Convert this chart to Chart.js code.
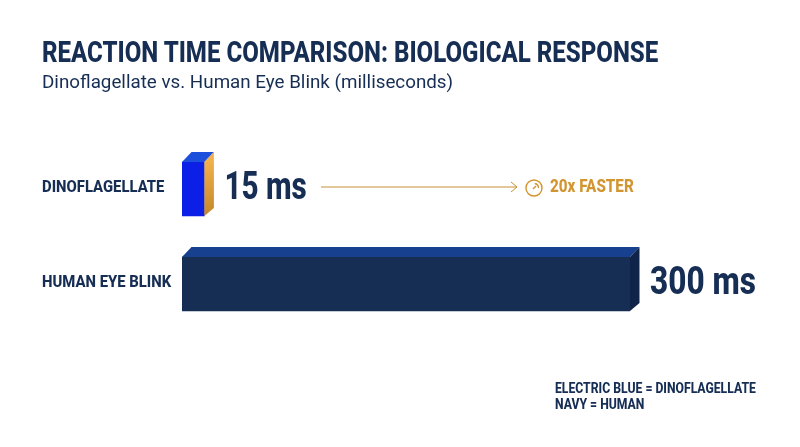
<!DOCTYPE html>
<html lang="en">
<head>
    <meta charset="UTF-8">
    <title>Reaction Time Comparison</title>
    <script src="https://cdn.jsdelivr.net/npm/chart.js"></script>
    <style>
        html, body {
            margin: 0;
            padding: 0;
            width: 800px;
            height: 447px;
            overflow: hidden;
            background: #ffffff;
            font-family: Roboto, Arial, sans-serif;
            color: #162d54;
        }

        .wrap {
            position: absolute;
            left: 0;
            top: 0;
            width: 800px;
            height: 447px;
        }

        .txt {
            position: absolute;
            white-space: nowrap;
            transform-origin: left top;
        }

        #titulo {
            left: 42px;
            top: 35px;
            font-size: 29px;
            line-height: 34px;
            font-weight: 800;
            transform: scaleX(0.83);
        }

        #subtitulo {
            left: 42px;
            top: 70px;
            font-size: 18.8px;
            line-height: 24px;
            font-weight: 400;
        }

        #nota {
            left: 555px;
            top: 380px;
            font-size: 14px;
            line-height: 16px;
            font-weight: 800;
            transform: scaleX(0.87);
        }
    </style>
</head>
<body>

    <div class="wrap">
        <canvas id="grafico" width="800" height="447"></canvas>
        <div class="txt" id="titulo">REACTION TIME COMPARISON: BIOLOGICAL RESPONSE</div>
        <div class="txt" id="subtitulo">Dinoflagellate vs. Human Eye Blink (milliseconds)</div>
        <div class="txt" id="nota">ELECTRIC BLUE = DINOFLAGELLATE<br>NAVY = HUMAN</div>
    </div>

    <script>
        const categorias = ['DINOFLAGELLATE', 'HUMAN EYE BLINK'];
        const tiempos = [15, 300];
        const etiquetas = ['15 ms', '300 ms'];
        const nota = '20x FASTER';

        const NAVY = '#162d54';
        const GOLD = '#d2952f';
        const frente = ['#0b1fe6', '#162d54'];
        const arriba = ['#1c4fdc', '#17408f'];
        const lado = [['#f2b04c', '#c4862a'], ['#0f2448', '#0f2448']];
        const anchoEtiqueta = [0.76, 0.81];

        function textoAngosto(ctx, texto, x, y, fuente, escala, color) {
            ctx.save();
            ctx.translate(x, y);
            ctx.scale(escala, 1);
            ctx.font = fuente;
            ctx.fillStyle = color;
            ctx.textAlign = 'left';
            ctx.textBaseline = 'middle';
            ctx.fillText(texto, 0, 0);
            ctx.restore();
        }

        const barras3d = {
            id: 'barras3d',
            afterDatasetsDraw(chart) {
                const ctx = chart.ctx;
                const barras = chart.getDatasetMeta(0).data;
                const dx = 9.5, dy = 10, caida = 8;

                barras.forEach((b, i) => {
                    const izq = b.base, der = b.x;
                    const sup = b.y - b.height / 2, inf = b.y + b.height / 2;

                    // cara superior
                    ctx.fillStyle = arriba[i];
                    ctx.beginPath();
                    ctx.moveTo(izq, sup);
                    ctx.lineTo(izq + dx, sup - dy);
                    ctx.lineTo(der + dx, sup - dy);
                    ctx.lineTo(der, sup);
                    ctx.closePath();
                    ctx.fill();

                    // cara lateral
                    const grad = ctx.createLinearGradient(der, sup, der + dx, inf);
                    grad.addColorStop(0, lado[i][0]);
                    grad.addColorStop(1, lado[i][1]);
                    ctx.fillStyle = grad;
                    ctx.beginPath();
                    ctx.moveTo(der, sup);
                    ctx.lineTo(der + dx, sup - dy);
                    ctx.lineTo(der + dx, inf - caida);
                    ctx.lineTo(der, inf);
                    ctx.closePath();
                    ctx.fill();

                    textoAngosto(ctx, etiquetas[i], der + dx + 10.5, b.y, '800 39px Roboto', anchoEtiqueta[i], NAVY);
                    textoAngosto(ctx, categorias[i], 42, b.y - 1.5, '800 16.5px Roboto', 0.9, NAVY);
                });

                // flecha y nota de 20x
                const yFlecha = barras[0].y - 2;
                ctx.strokeStyle = '#c98f33';
                ctx.lineWidth = 1;
                ctx.beginPath();
                ctx.moveTo(321, yFlecha);
                ctx.lineTo(517, yFlecha);
                ctx.moveTo(511, yFlecha - 5);
                ctx.lineTo(517, yFlecha);
                ctx.lineTo(511, yFlecha + 5);
                ctx.stroke();

                // icono de cronometro
                ctx.strokeStyle = GOLD;
                ctx.lineWidth = 1.4;
                ctx.beginPath();
                ctx.arc(534, yFlecha + 1, 8, 0, Math.PI * 2);
                ctx.stroke();
                ctx.beginPath();
                ctx.arc(534, yFlecha + 1, 4.5, -Math.PI * 0.45, 0);
                ctx.stroke();
                ctx.beginPath();
                ctx.moveTo(533, yFlecha + 2);
                ctx.lineTo(536, yFlecha - 1);
                ctx.stroke();

                textoAngosto(ctx, nota, 550, yFlecha + 1, '800 17.5px Roboto', 0.87, GOLD);
            }
        };

        new Chart(document.getElementById('grafico').getContext('2d'), {
            type: 'bar',
            data: {
                labels: categorias,
                datasets: [{
                    data: tiempos,
                    backgroundColor: frente,
                    borderWidth: 0,
                    barThickness: 54
                }]
            },
            options: {
                indexAxis: 'y',
                responsive: false,
                animation: false,
                layout: { padding: { left: 182, right: 170, top: 141.5, bottom: 115.5 } },
                plugins: { legend: { display: false }, tooltip: { enabled: false } },
                scales: {
                    x: { display: false, min: 0, max: 300 },
                    y: { display: false }
                }
            },
            plugins: [barras3d]
        });
    </script>

</body>
</html>
